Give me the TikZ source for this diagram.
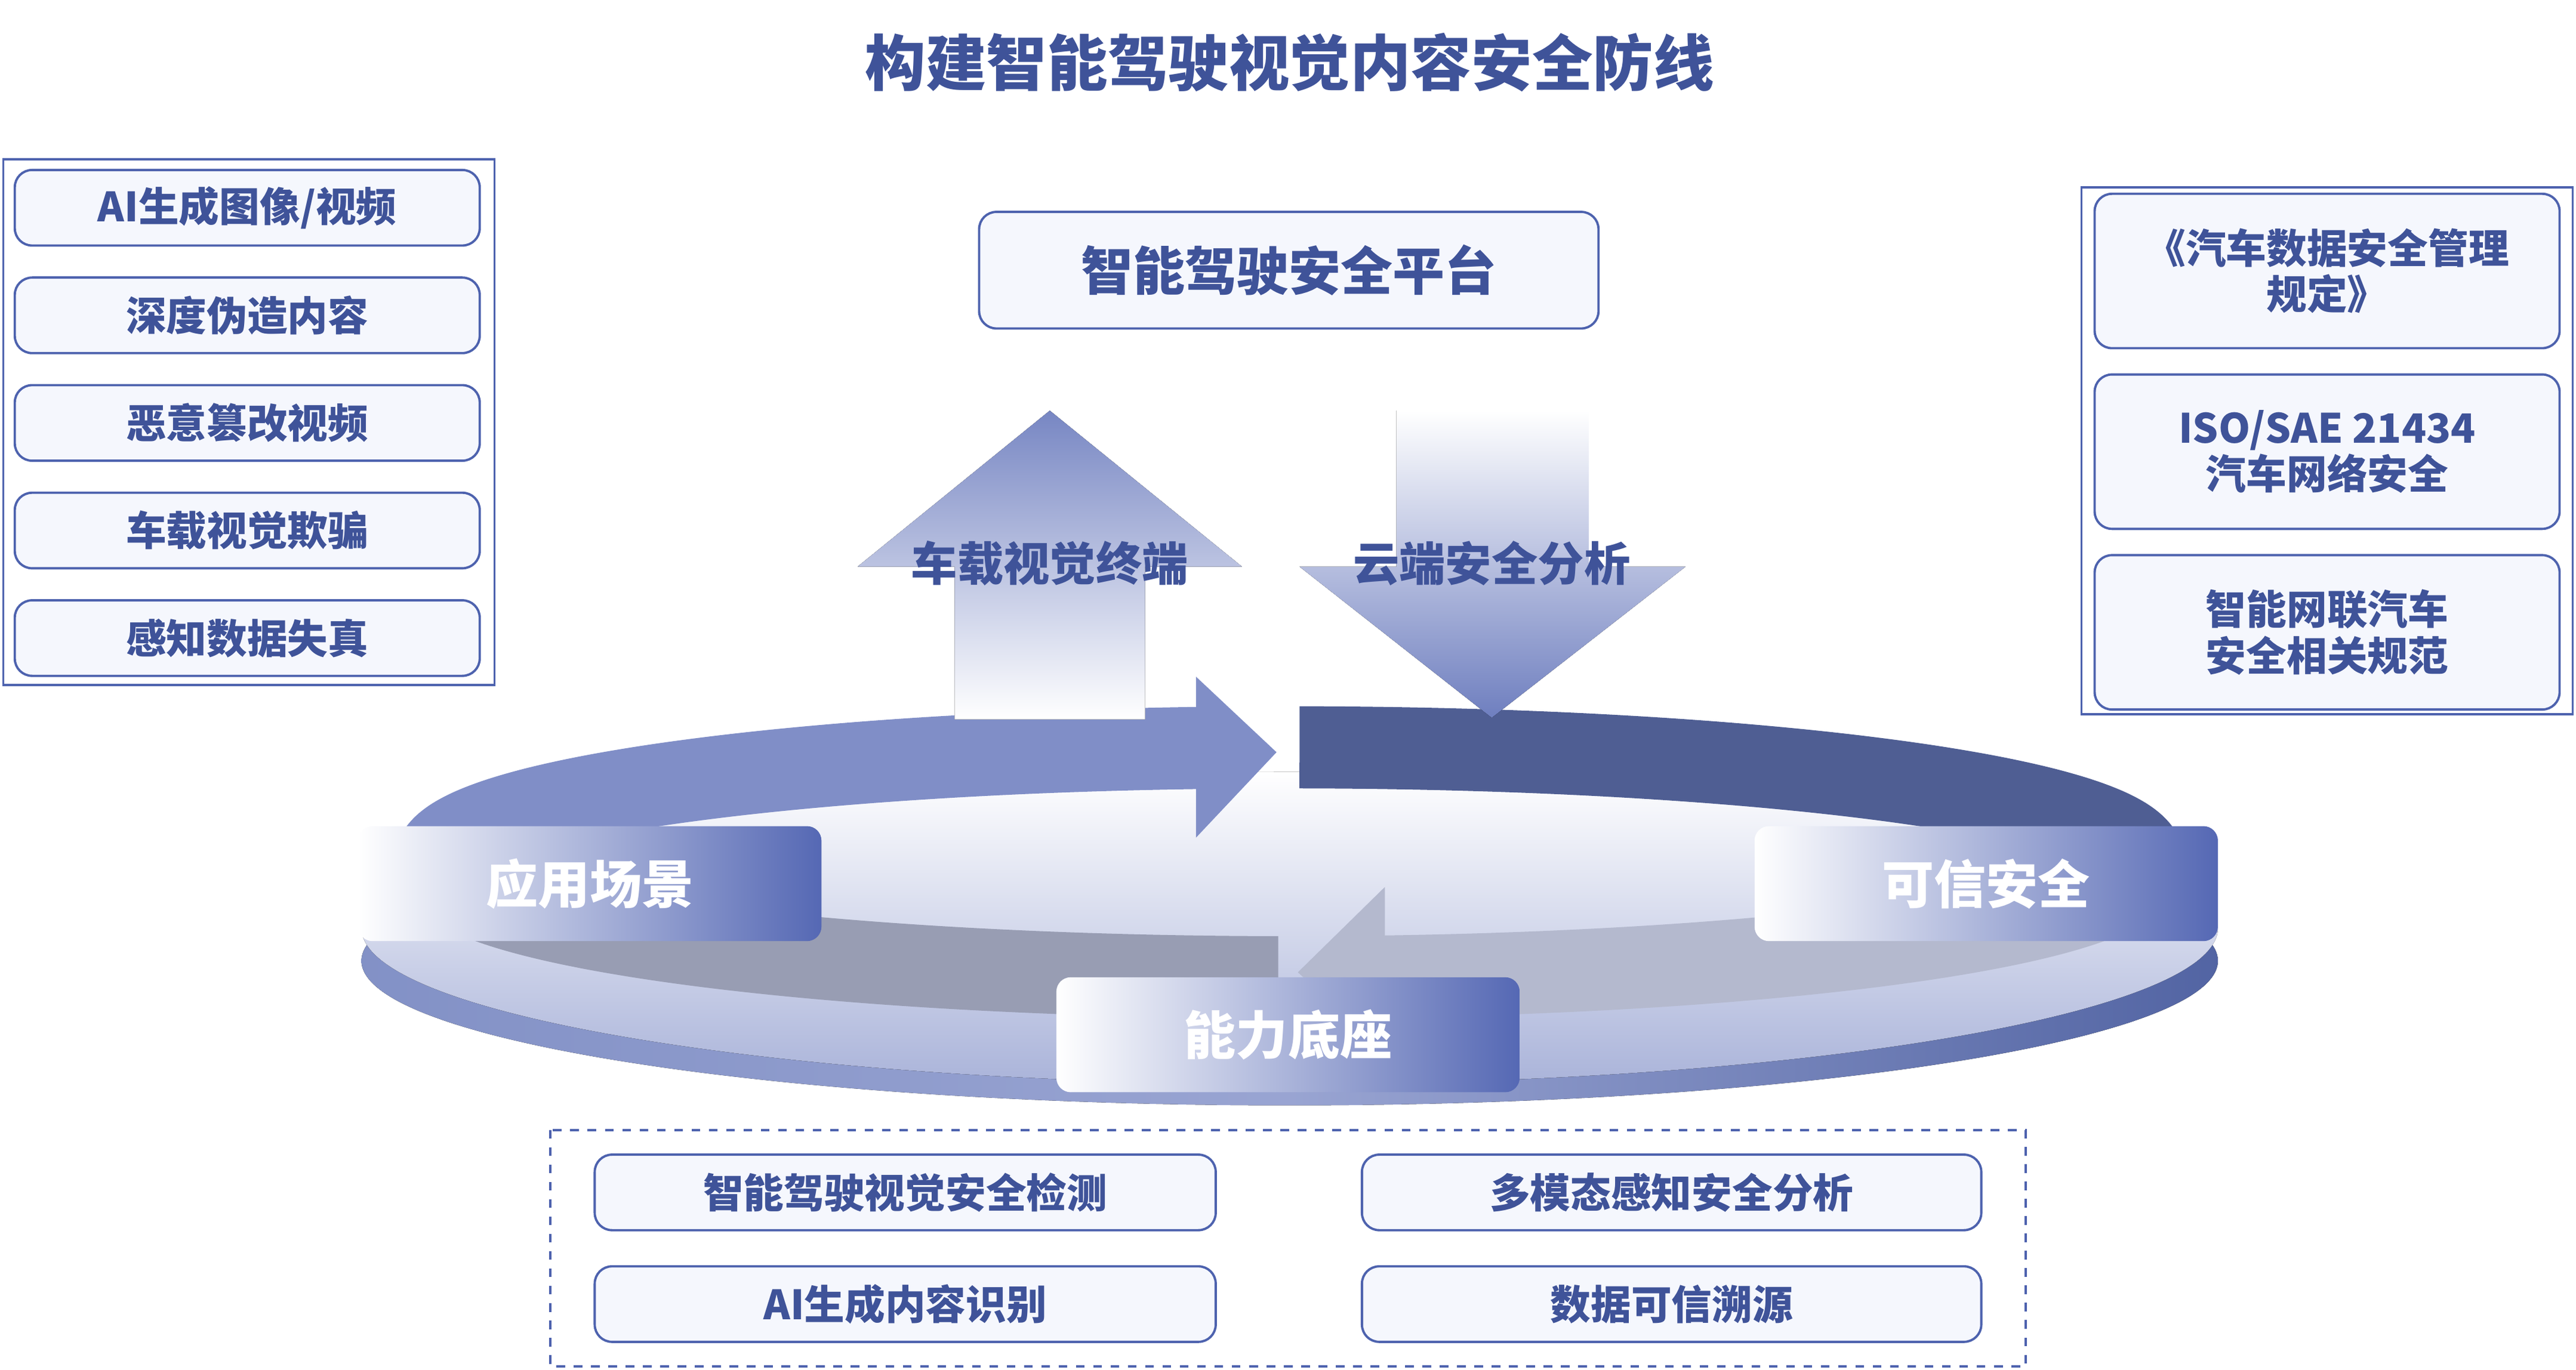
\documentclass[tikz,border=0pt]{standalone}
\usepackage{fontspec}
\setmainfont{Noto Sans CJK SC}
\usetikzlibrary{positioning,arrows.meta,shapes}
\definecolor{navy}{HTML}{3F5399}
\definecolor{edge}{HTML}{4D62AE}
\definecolor{pale}{HTML}{F5F7FD}
\definecolor{mid}{HTML}{5568B4}
\begin{document}
\begin{tikzpicture}[x=0.2mm,y=-0.2mm]
  \tikzstyle{item}=[rectangle, draw=edge, fill=pale, line width=0.8pt, rounded corners=6pt, text=navy, font=\bfseries\fontsize{14}{16}\selectfont, align=center, inner sep=0pt]
  \tikzstyle{frame}=[draw=edge, line width=0.8pt]
  \tikzstyle{pill}=[rectangle, rounded corners=5pt, left color=white, right color=mid, text=white, font=\bfseries\fontsize{18}{20}\selectfont, minimum width=56.4mm, minimum height=14mm, inner sep=0pt]
  \tikzstyle{band}=[line width=10mm]
  \useasboundingbox (0,0) rectangle (1568,834);

  % title
  \node[text=navy, font=\bfseries\fontsize{21}{24}\selectfont] (title) at (785,38) {构建智能驾驶视觉内容安全防线};

  % left threats
  \draw[frame] (2,97) rectangle (301,417);
  \foreach \t [count=\i] in {AI生成图像/视频,深度伪造内容,恶意篡改视频,车载视觉欺骗,感知数据失真}
    \node[item, minimum width=56.6mm, minimum height=9.2mm] (threat\i) at (150.5,61+65.5*\i) {\t};

  % right regulations
  \draw[frame] (1267,114) rectangle (1566,435);
  \node[item, minimum width=56.6mm, minimum height=18.8mm] (reg1) at (1416.5,165) {《汽车数据安全管理\\规定》};
  \node[item, minimum width=56.6mm, minimum height=18.8mm] (reg2) at (1416.5,275) {ISO/SAE 21434\\汽车网络安全};
  \node[item, minimum width=56.6mm, minimum height=18.8mm] (reg3) at (1416.5,385) {智能网联汽车\\安全相关规范};

  % platform
  \node[item, minimum width=75.4mm, minimum height=14.2mm, font=\bfseries\fontsize{18}{20}\selectfont] (platform) at (784.5,164.5) {智能驾驶安全平台};

  % disk
  \fill[left color=edge!70, right color=navy!90, middle color=mid!60] (785,585) ellipse (565 and 88);
  \fill[top color=white, bottom color=mid!50] (785,565) ellipse (565 and 95);

  % ring arrows
  \draw[band, color=mid!75] (265,525) arc (180:264.5:520 and 70);
  \fill[mid!75] (728,412) -- (777,458) -- (728,510) -- cycle;
  \draw[band, color=navy!75!gray] (791,455) arc (270.7:360:520 and 70);
  \draw[band, color=gray!45!mid!50] (1305,525) arc (0:85:520 and 70);
  \fill[gray!45!mid!50] (843,540) -- (790,592) -- (843,640) -- cycle;
  \draw[band, color=gray!60!edge!70] (778,595) arc (90.8:180:520 and 70);

  % up / down arrows
  \fill[top color=mid!80, bottom color=white] (581,438) -- (581,345) -- (522,345) -- (639,250) -- (756,345) -- (697,345) -- (697,438) -- cycle;
  \node[text=navy, font=\bfseries\fontsize{16}{18}\selectfont] (terminal) at (639,343) {车载视觉终端};
  \fill[top color=white, bottom color=mid!85] (850,250) -- (967,250) -- (967,345) -- (1026,345) -- (908,437) -- (791,345) -- (850,345) -- cycle;
  \node[text=navy, font=\bfseries\fontsize{16}{18}\selectfont] (cloud) at (908,343) {云端安全分析};

  % pillars
  \node[pill] (scene) at (359,538) {应用场景};
  \node[pill] (trust) at (1209,538) {可信安全};
  \node[pill] (base) at (784,630) {能力底座};

  % capabilities
  \draw[frame, dashed] (335,688) rectangle (1233,832);
  \node[item, minimum width=75.6mm, minimum height=9.2mm] (cap1) at (551,726) {智能驾驶视觉安全检测};
  \node[item, minimum width=75.4mm, minimum height=9.2mm] (cap2) at (1017.5,726) {多模态感知安全分析};
  \node[item, minimum width=75.6mm, minimum height=9.2mm] (cap3) at (551,794) {AI生成内容识别};
  \node[item, minimum width=75.4mm, minimum height=9.2mm] (cap4) at (1017.5,794) {数据可信溯源};
\end{tikzpicture}
\end{document}
